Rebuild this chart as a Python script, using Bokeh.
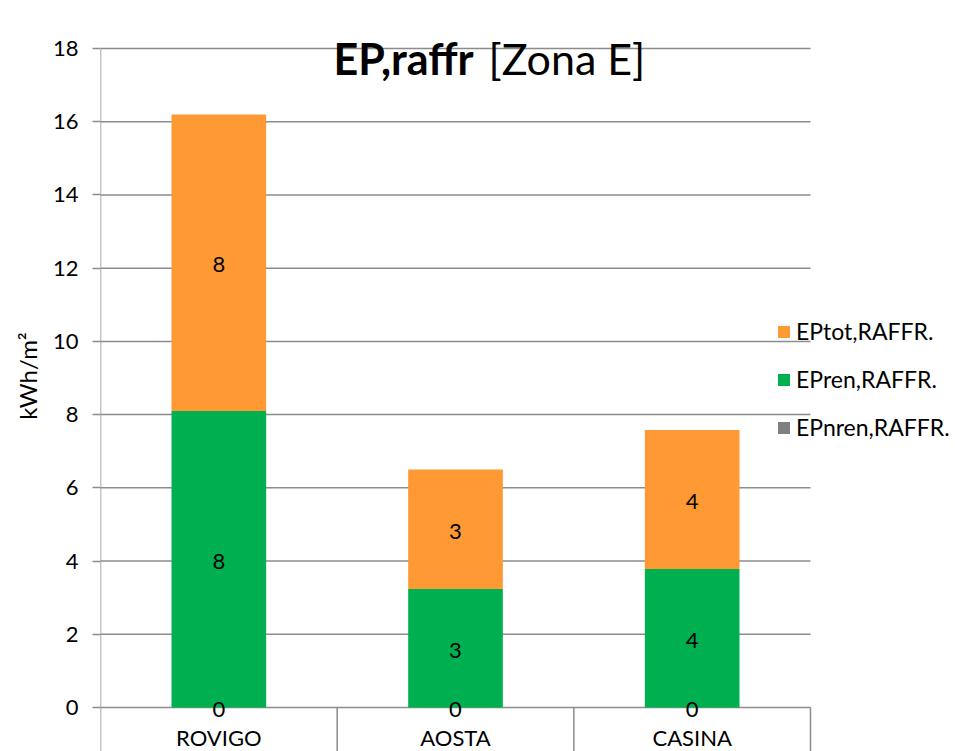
from bokeh.plotting import figure
from bokeh.models import (Range1d, FixedTicker, Legend, LegendItem, Label,
                          ColumnDataSource)
from bokeh.embed import file_html
from bokeh.resources import INLINE
from bokeh.core.properties import value

categories = ["ROVIGO", "AOSTA", "CASINA"]
ep_nren = [0.0, 0.0, 0.0]
ep_ren = [8.1, 3.24, 3.78]
ep_tot = [8.1, 3.26, 3.8]
y_ticks = [0, 2, 4, 6, 8, 10, 12, 14, 16, 18]
series_names = ["EPnren,RAFFR.", "EPren,RAFFR.", "EPtot,RAFFR."]
colors = ["#808080", "#00B050", "#FF9933"]

FONT = "Lato"
GRID = "#8c8c8c"
FS = "22px"

# ---- layout (pixels) ----
n = len(categories)
PLOT_PX_W = 710          # width of the category area
FRAME_W = 856            # frame extends right to hold the legend
FRAME_H = 751            # frame covers full height so nothing is clipped
Y0_PX = 707              # pixel row of value 0 (from top)
Y18_PX = 48              # pixel row of the top tick
ymax = y_ticks[-1]
px_per_unit = (Y0_PX - Y18_PX) / ymax
y_start = -(FRAME_H - Y0_PX) / px_per_unit
y_end = ymax + Y18_PX / px_per_unit
x_end = n * FRAME_W / PLOT_PX_W

xs = [i + 0.5 for i in range(n)]
src = ColumnDataSource(dict(x=xs, nren=ep_nren, ren=ep_ren, tot=ep_tot))

p = figure(frame_width=FRAME_W, frame_height=FRAME_H, output_backend="svg",
           toolbar_location=None, x_range=Range1d(0, x_end),
           y_range=Range1d(y_start, y_end), x_axis_type=None,
           min_border_left=100, min_border_top=0, min_border_right=0,
           min_border_bottom=0)
p.outline_line_color = None
p.background_fill_color = "white"
p.border_fill_color = "white"
p.xgrid.grid_line_color = None
p.ygrid.grid_line_color = None

# horizontal gridlines across the category area
p.segment(x0=[0] * len(y_ticks), x1=[n] * len(y_ticks), y0=y_ticks, y1=y_ticks,
          line_color=GRID, line_width=1.5)
# vertical axis line and category separators
p.segment(x0=[0], x1=[0], y0=[ymax], y1=[y_start], line_color=GRID, line_width=1.5)
seps = list(range(1, n + 1))
p.segment(x0=seps, x1=seps, y0=[0] * n, y1=[y_start] * n, line_color=GRID, line_width=1.5)

renderers = p.vbar_stack(["nren", "ren", "tot"], x="x", width=0.4,
                         color=colors, line_color=None, source=src)

# category labels
p.text(x=xs, y=[0] * n, text=categories, text_align="center", text_baseline="middle",
       y_offset=30, text_font=value(FONT), text_font_size=FS, text_color="black")

yaxis = p.yaxis[0]
yaxis.ticker = FixedTicker(ticks=y_ticks)
yaxis.major_tick_out = 8
yaxis.major_tick_in = 0
yaxis.minor_tick_line_color = None
yaxis.major_tick_line_color = GRID
yaxis.major_tick_line_width = 1.5
yaxis.axis_line_color = None
yaxis.major_label_standoff = 14
yaxis.major_label_text_font = FONT
yaxis.major_label_text_font_size = FS
yaxis.major_label_text_color = "black"
yaxis.axis_label = "kWh/m²"
yaxis.axis_label_text_font = FONT
yaxis.axis_label_text_font_size = "24px"
yaxis.axis_label_text_font_style = "normal"
yaxis.axis_label_text_color = "black"
yaxis.axis_label_standoff = 8

# value labels
lab_x, lab_y, lab_t = [], [], []
for i, x in enumerate(xs):
    base = ep_nren[i]
    lab_x.append(x); lab_y.append(ep_nren[i] / 2); lab_t.append(f"{ep_nren[i]:.0f}")
    lab_x.append(x); lab_y.append(base + ep_ren[i] / 2); lab_t.append(f"{ep_ren[i]:.0f}")
    base2 = base + ep_ren[i]
    lab_x.append(x); lab_y.append(base2 + ep_tot[i] / 2); lab_t.append(f"{ep_tot[i]:.0f}")
p.text(x=lab_x, y=lab_y, text=lab_t, text_align="center", text_baseline="middle",
       text_font=value(FONT), text_font_size=FS, text_color="black",
       y_offset=2)

# title inside the plot area
t1 = Label(x=233, y=693, x_units="screen", y_units="screen", text="EP,raffr",
           text_font=FONT, text_font_size="43px", text_font_style="bold",
           text_color="black", text_baseline="middle")
t2 = Label(x=388, y=693, x_units="screen", y_units="screen", text="[Zona E]",
           text_font=FONT, text_font_size="43px", text_font_style="normal",
           text_color="black", text_baseline="middle")
p.add_layout(t1)
p.add_layout(t2)

items = [LegendItem(label=series_names[k], renderers=[renderers[k]]) for k in (2, 1, 0)]
legend = Legend(items=items, location=(676, 310), orientation="vertical",
                glyph_width=15, glyph_height=15, label_height=22,
                label_standoff=5, spacing=20, padding=0, margin=0,
                label_text_font=FONT, label_text_font_size="23px",
                label_text_color="black", background_fill_alpha=0,
                border_line_color=None)
p.add_layout(legend, "center")

open("out.html", "w").write(file_html(p, INLINE))
